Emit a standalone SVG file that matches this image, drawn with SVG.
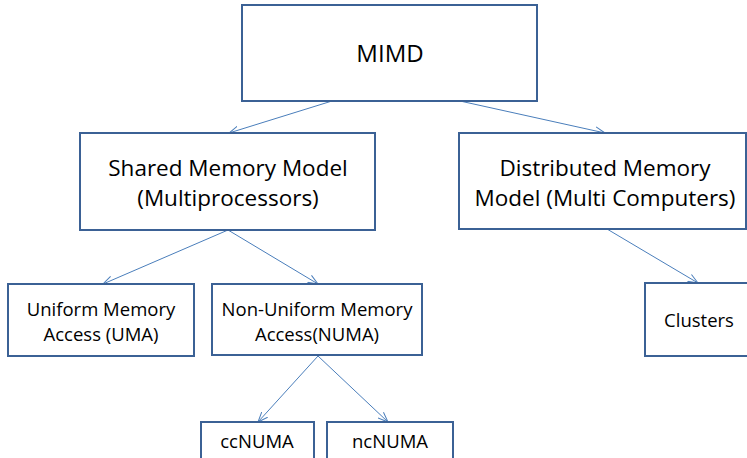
<svg xmlns="http://www.w3.org/2000/svg" width="747" height="458" viewBox="0 0 747 458">
  <style>
    .box { fill: #ffffff; stroke: #3b6195; stroke-width: 2; }
    .lbl { font-family: "Open Sans", "Liberation Sans", sans-serif; fill: #000000; text-anchor: middle; }
    .big { font-size: 22.5px; }
    .small { font-size: 18.5px; }
    .edge { stroke: #4a7ebb; stroke-width: 1; fill: none; marker-end: url(#arr); }
  </style>
  <defs>
    <marker id="arr" viewBox="0 0 10 10" refX="10" refY="5" markerWidth="10" markerHeight="10" markerUnits="userSpaceOnUse" orient="auto">
      <path d="M0,1 L10,5 L0,9" fill="none" stroke="#4a7ebb" stroke-width="1"/>
    </marker>
  </defs>
  <rect width="747" height="458" fill="#ffffff"/>

  <g id="edges">
    <line class="edge" x1="332" y1="101" x2="229" y2="133"/>
    <line class="edge" x1="460" y1="101" x2="605" y2="133"/>
    <line class="edge" x1="228" y1="230" x2="103" y2="284"/>
    <line class="edge" x1="228" y1="230" x2="318" y2="284"/>
    <line class="edge" x1="318" y1="356" x2="258" y2="422"/>
    <line class="edge" x1="318" y1="356" x2="388" y2="422"/>
    <line class="edge" x1="607" y1="229" x2="698" y2="283"/>
  </g>

  <g id="mimd">
    <rect class="box" x="242" y="5" width="295" height="96"/>
    <text class="lbl big" x="390" y="62" style="font-size:24px">MIMD</text>
  </g>
  <g id="shared">
    <rect class="box" x="80" y="133" width="295" height="97"/>
    <text class="lbl big" x="228" y="176">Shared Memory Model</text>
    <text class="lbl big" x="228" y="206">(Multiprocessors)</text>
  </g>
  <g id="distributed">
    <rect class="box" x="459" y="133" width="287" height="96"/>
    <text class="lbl big" x="605" y="176">Distributed Memory</text>
    <text class="lbl big" x="605" y="206">Model (Multi Computers)</text>
  </g>
  <g id="uma">
    <rect class="box" x="8" y="284" width="186" height="72"/>
    <text class="lbl small" x="101" y="316">Uniform Memory</text>
    <text class="lbl small" x="101" y="341">Access (UMA)</text>
  </g>
  <g id="numa">
    <rect class="box" x="212" y="284" width="210" height="71"/>
    <text class="lbl small" x="317" y="316">Non-Uniform Memory</text>
    <text class="lbl small" x="317" y="341">Access(NUMA)</text>
  </g>
  <g id="clusters">
    <rect class="box" x="645" y="283" width="105" height="73"/>
    <text class="lbl small" x="699" y="327">Clusters</text>
  </g>
  <g id="ccnuma">
    <rect class="box" x="201" y="422" width="113" height="40"/>
    <text class="lbl small" x="257" y="448">ccNUMA</text>
  </g>
  <g id="ncnuma">
    <rect class="box" x="327" y="422" width="126" height="40"/>
    <text class="lbl small" x="390" y="448">ncNUMA</text>
  </g>
</svg>
